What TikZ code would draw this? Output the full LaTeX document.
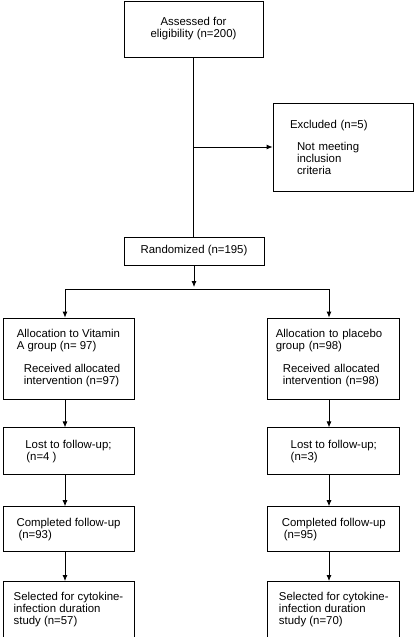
\documentclass[tikz,border=0pt]{standalone}
\usepackage{fontspec}
\setmainfont{Liberation Sans}
\usetikzlibrary{positioning,arrows.meta}
\tikzset{
  box/.style={draw=black, text=black, line width=0.8bp, align=left, inner sep=0pt,
    font=\fontsize{11.4bp}{12bp}\selectfont},
  >={Latex[length=6bp,width=5bp]}
}

\begin{document}
\begin{tikzpicture}[x=1bp, y=-1bp, line width=0.8bp]
  \useasboundingbox (0,0) rectangle (415,637);
  % Nodes
  \node (assess) [box, align=center, minimum width=139bp, minimum height=56bp] at (193.5,29) {Assessed for\\eligibility (n=200)};
  \node (excl) [box, text width=106bp, inner xsep=17bp, minimum height=88bp] at (343,147) {
    Excluded (n=5)\\[10bp]
    \hspace*{7bp}Not meeting\\
    \hspace*{7bp}inclusion\\
    \hspace*{7bp}criteria
  };
  \node (rand) [box, align=center, minimum width=140bp, minimum height=28bp] at (194,251) {Randomized (n=195)};
  \node (lalloc) [box, minimum width=131bp, minimum height=81bp] at (68.5,358.5) {
    Allocation to Vitamin\\
    A group (n= 97)\\[11bp]
    \hspace*{7bp}Received allocated\\
    \hspace*{7bp}intervention (n=97)
  };
  \node (ralloc) [box, text width=116bp, inner xsep=8bp, minimum height=81bp, right=133bp of lalloc] {
    Allocation to placebo\\
    group (n=98)\\[11bp]
    \hspace*{7bp}Received allocated\\
    \hspace*{7bp}intervention (n=98)
  };
  \node (llost) [box, minimum width=131bp, minimum height=47bp, below=28bp of lalloc] {Lost to follow-up;\\\hspace*{1bp}(n=4 )};
  \node (rlost) [box, minimum width=132bp, minimum height=47bp, below=28bp of ralloc] {Lost to follow-up;\\(n=3)};
  \node (lcomp) [box, minimum width=131bp, minimum height=45bp, below=31bp of llost] {Completed follow-up\\\hspace*{2bp}(n=93)};
  \node (rcomp) [box, minimum width=132bp, minimum height=45bp, below=31bp of rlost] {Completed follow-up\\\hspace*{2bp}(n=95)};
  \node (lsel) [box, minimum width=131bp, minimum height=56bp, below=29bp of lcomp] {Selected for cytokine-\\infection duration\\study (n=57)};
  \node (rsel) [box, minimum width=132bp, minimum height=56bp, below=29bp of rcomp] {Selected for cytokine-\\infection duration\\study (n=70)};

  \coordinate (branch) at (assess.south |- excl.west);
  \coordinate (split) at (rand.south |- 0,287);
  \coordinate (lsplit) at (65,289);
  \coordinate (rsplit) at (329,289);

  % Connectors
  \draw (assess.south) -- (assess.south |- rand.north);
  \draw[->] (branch) -- (excl.west);
  \draw[->] (rand.south) -- (split);
  \draw (lsplit) -- (rsplit);
  \draw[->] (lsplit) -- (lsplit |- lalloc.north);
  \draw[->] (rsplit) -- (rsplit |- ralloc.north);
  \draw[->] (lsplit |- lalloc.south) -- (lsplit |- llost.north);
  \draw[->] (rsplit |- ralloc.south) -- (rsplit |- rlost.north);
  \draw[->] (lsplit |- llost.south) -- (lsplit |- lcomp.north);
  \draw[->] (rsplit |- rlost.south) -- (rsplit |- rcomp.north);
  \draw[->] (lsplit |- lcomp.south) -- (lsplit |- lsel.north);
  \draw[->] (rsplit |- rcomp.south) -- (rsplit |- rsel.north);
\end{tikzpicture}
\end{document}
